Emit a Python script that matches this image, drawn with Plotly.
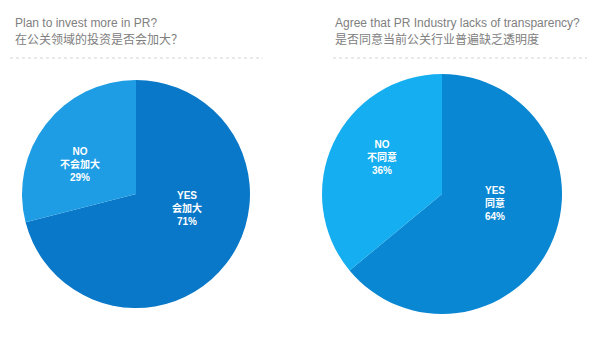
import plotly.graph_objects as go

W, H = 587, 347
OFF = 8  # page body margin offset

# ---- data ----
titles_en = ["Plan to invest more in PR?", "Agree that PR Industry lacks of transparency?"]
titles_zh = ["在公关领域的投资是否会加大？", "是否同意当前公关行业普遍缺乏透明度"]
labels_en = ["YES", "NO"]
labels_zh_left = ["会加大", "不会加大"]
labels_zh_right = ["同意", "不同意"]
values_left = [71, 29]
values_right = [64, 36]

colors_left = ["#0A78C8", "#1E9DE5"]
colors_right = ["#0A87D2", "#15AEF0"]

FONT = "Liberation Sans, Noto Sans CJK SC, sans-serif"

def px_x(v):
    return (v - OFF) / W

def px_y(v):
    return 1 - (v - OFF) / H

fig = go.Figure()

# left pie
fig.add_trace(go.Pie(
    labels=labels_en, values=values_left, sort=False, direction="clockwise",
    rotation=0, marker=dict(colors=colors_left, line=dict(width=0)),
    textinfo="none", hoverinfo="label+percent", showlegend=False,
    domain=dict(x=[px_x(22), px_x(250)], y=[px_y(308), px_y(80)]),
))
# right pie
fig.add_trace(go.Pie(
    labels=labels_en, values=values_right, sort=False, direction="clockwise",
    rotation=0, marker=dict(colors=colors_right, line=dict(width=0)),
    textinfo="none", hoverinfo="label+percent", showlegend=False,
    domain=dict(x=[px_x(322), px_x(562)], y=[px_y(314), px_y(74)]),
))

annotations = []
# titles
for tx, en, zh in [(13, titles_en[0], titles_zh[0]), (333, titles_en[1], titles_zh[1])]:
    annotations.append(dict(x=px_x(tx), y=px_y(23), xref="paper", yref="paper",
                            text=en, showarrow=False, xanchor="left", yanchor="middle",
                            font=dict(family=FONT, size=12, color="#808080")))
    annotations.append(dict(x=px_x(tx), y=px_y(39), xref="paper", yref="paper",
                            text=zh, showarrow=False, xanchor="left", yanchor="middle",
                            font=dict(family=FONT, size=12, color="#808080")))

# slice labels
label_pos = [
    (values_left, labels_zh_left, [(187, 208), (80, 164)]),
    (values_right, labels_zh_right, [(495, 203), (382, 157)]),
]
for vals, zhs, poss in label_pos:
    for i in range(2):
        x, y = poss[i]
        annotations.append(dict(
            x=px_x(x), y=px_y(y), xref="paper", yref="paper",
            text=f"<b>{labels_en[i]}</b><br><b>{zhs[i]}</b><br><b>{vals[i]}%</b>",
            showarrow=False, xanchor="center", yanchor="middle", align="center",
            font=dict(family=FONT, size=10, color="white")))

shapes = [
    dict(type="line", xref="paper", yref="paper", x0=px_x(10), x1=px_x(263),
         y0=px_y(58), y1=px_y(58), line=dict(color="#d4d4d4", width=1, dash="dot")),
    dict(type="line", xref="paper", yref="paper", x0=px_x(333), x1=px_x(590),
         y0=px_y(58), y1=px_y(58), line=dict(color="#d4d4d4", width=1, dash="dot")),
]

fig.update_layout(
    width=W, height=H, margin=dict(l=0, r=0, t=0, b=0),
    paper_bgcolor="white", plot_bgcolor="white",
    annotations=annotations, shapes=shapes, font=dict(family=FONT),
)

fig.write_html("out.html")
